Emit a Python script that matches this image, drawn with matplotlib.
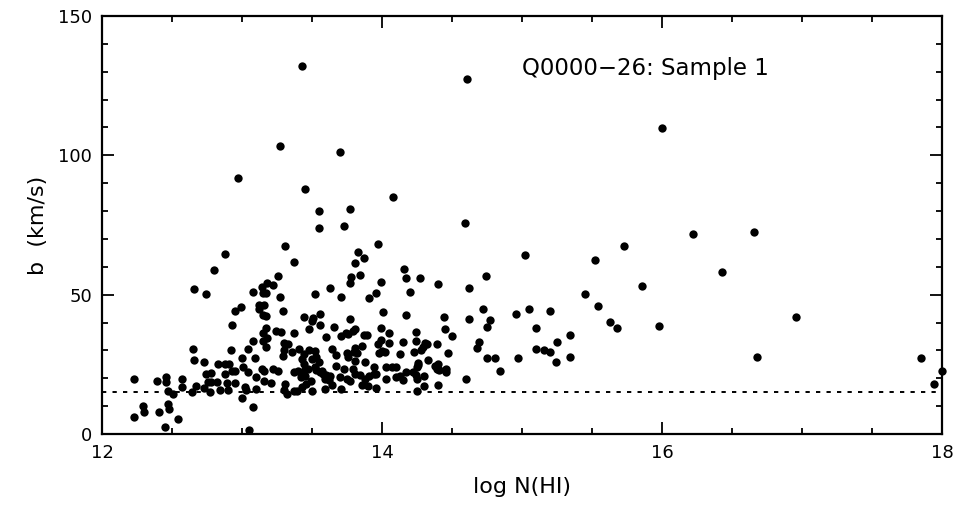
import numpy as np
import matplotlib
matplotlib.use('Agg')
import matplotlib.pyplot as plt
from matplotlib.ticker import MultipleLocator

########## data: log N(HI) and b (km/s)

##### 12.0 - 12.6
logN_1 = [12.23, 12.23, 12.29, 12.30, 12.39, 12.41, 12.45, 12.46, 12.46, 12.47,
          12.47, 12.48, 12.51, 12.54, 12.57, 12.57]
b_1    = [19.6, 6.2, 10.0, 7.9, 18.9, 7.9, 2.6, 20.3, 18.7, 15.5,
          10.8, 9.1, 14.4, 5.5, 19.8, 17.0]

##### 12.6 - 13.33
logN_2 = [12.65, 12.66, 12.66, 12.64, 12.67, 12.73, 12.74, 12.74, 12.78, 12.76,
          12.73, 12.77, 12.78, 12.80, 12.82, 12.83, 12.84, 12.88, 12.88, 12.88,
          12.89, 12.90, 12.91, 12.92, 12.93, 12.93, 12.95, 12.95, 12.95, 12.97,
          12.99, 13.00, 13.00, 13.01, 13.02, 13.03, 13.04, 13.04, 13.05, 13.08,
          13.08, 13.08, 13.09, 13.10, 13.10, 13.12, 13.12, 13.14, 13.14, 13.15,
          13.15, 13.15, 13.15, 13.16, 13.16, 13.16, 13.17, 13.17, 13.17, 13.17,
          13.18, 13.18, 13.21, 13.22, 13.22, 13.24, 13.26, 13.26, 13.27, 13.27,
          13.28, 13.29, 13.29, 13.30, 13.30, 13.30, 13.31, 13.31, 13.32, 13.33]
b_2    = [30.6, 26.4, 51.9, 15.1, 17.1, 25.9, 50.1, 21.5, 22.0, 18.6,
          16.4, 15.2, 18.8, 58.8, 18.8, 25.1, 15.8, 64.6, 25.1, 21.5,
          18.2, 15.8, 25.1, 30.1, 39.1, 22.6, 22.7, 44.3, 18.2, 92.0,
          45.7, 27.2, 13.0, 24.1, 17.0, 15.9, 30.6, 22.2, 1.4, 9.8,
          51.1, 33.5, 27.2, 20.3, 16.3, 46.2, 44.9, 52.6, 23.2, 50.7,
          42.7, 36.1, 33.4, 46.2, 22.6, 18.9, 50.7, 42.3, 38.1, 31.3,
          54.3, 34.3, 18.4, 53.3, 23.2, 37.1, 56.8, 22.7, 49.0, 103.5,
          36.7, 44.2, 28.0, 32.8, 30.1, 15.8, 67.6, 17.9, 14.3, 32.3]

##### 13.33 - 14.6
logN_3 = [13.43, 13.70, 13.45, 13.55, 13.55, 13.77, 13.73, 14.08, 14.59, 13.37,
          13.83, 13.87, 13.81, 13.97, 13.78, 13.77, 13.84, 14.16, 14.17, 14.27,
          13.99, 14.40, 14.62, 13.63, 13.52, 13.71, 13.91, 13.96, 14.20, 14.01,
          14.17, 13.44, 13.56, 13.50, 13.51, 13.77, 14.44, 14.62, 13.48, 13.56,
          13.66, 13.76, 13.79, 13.89, 13.99, 14.05, 14.24, 14.45, 14.50, 13.37,
          13.60, 13.71, 13.74, 13.81, 13.87, 13.99, 14.05, 14.24, 14.31, 14.32,
          14.39, 14.15, 14.47, 13.41, 13.48, 13.52, 13.44, 13.36, 13.50, 13.53,
          13.55, 13.43, 13.44, 13.64, 13.67, 13.75, 13.76, 13.80, 13.81, 13.82,
          13.81, 13.86, 13.98, 14.00, 14.13, 14.23, 14.28, 14.29, 14.33, 14.38,
          14.40, 14.46, 14.46, 14.60, 13.37, 13.39, 13.43, 13.46, 13.50, 13.37,
          13.40, 13.44, 13.47, 13.45, 13.42, 13.49, 13.52, 13.53, 13.56, 13.57,
          13.58, 13.59, 13.60, 13.62, 13.63, 13.59, 13.64, 13.67, 13.70, 13.71,
          13.73, 13.75, 13.77, 13.79, 13.81, 13.84, 13.86, 13.90, 13.88, 13.91,
          13.88, 13.94, 13.94, 13.96, 13.96, 14.03, 14.03, 14.07, 14.10, 14.10,
          14.13, 14.15, 14.17, 14.22, 14.24, 14.25, 14.25, 14.26, 14.25, 14.30,
          14.30, 14.40, 14.39, 14.45, 13.97, 14.02, 14.26, 14.41]
b_3    = [132.1, 101.3, 87.8, 80.2, 74.0, 80.6, 74.6, 85.2, 75.6, 61.8,
          65.4, 63.0, 61.2, 68.3, 56.5, 54.3, 56.9, 59.3, 55.8, 56.1,
          54.4, 54.0, 52.5, 52.3, 50.3, 49.0, 48.9, 50.6, 50.8, 43.6,
          42.8, 42.1, 42.9, 40.5, 41.6, 41.1, 41.9, 41.4, 37.7, 39.0,
          38.5, 35.9, 37.1, 35.6, 37.9, 36.1, 36.6, 37.7, 35.1, 36.1,
          34.9, 35.2, 36.3, 37.5, 35.4, 33.7, 32.8, 33.4, 32.8, 32.2,
          32.2, 32.9, 29.2, 30.6, 30.1, 29.9, 28.7, 29.5, 27.0, 27.7,
          25.8, 27.0, 25.1, 30.5, 28.5, 28.9, 27.7, 29.5, 30.7, 29.2,
          26.3, 31.6, 29.2, 29.8, 28.7, 29.3, 30.0, 31.3, 26.5, 24.4,
          25.0, 23.5, 22.1, 19.6, 15.4, 15.4, 17.0, 17.9, 15.5, 22.2,
          22.5, 22.7, 23.3, 20.8, 20.6, 18.9, 24.1, 23.0, 22.2, 22.7,
          21.7, 19.6, 21.2, 19.4, 20.8, 16.3, 17.7, 24.4, 20.6, 16.0,
          23.2, 19.8, 19.1, 23.4, 21.7, 21.2, 17.6, 17.2, 19.7, 20.8,
          25.8, 24.1, 21.4, 16.4, 21.7, 23.9, 19.7, 23.9, 23.9, 20.3,
          20.8, 19.4, 22.4, 22.4, 21.2, 23.9, 19.6, 24.7, 15.6, 20.8,
          17.2, 17.5, 23.5, 23.0, 32.3, 29.5, 25.5, 23.0]

##### 14.6 - 18.0
logN_4 = [14.61, 14.69, 14.68, 14.72, 14.74, 14.75, 14.75, 14.77, 14.81, 14.84,
          14.96, 14.97, 15.02, 15.05, 15.10, 15.10, 15.16, 15.20, 15.20, 15.24,
          15.25, 15.34, 15.34, 15.45, 15.52, 15.54, 15.63, 15.68, 15.73, 15.86,
          15.98, 16.00, 16.22, 16.43, 16.66, 16.68, 16.96, 17.85, 17.94, 18.00]
b_4    = [127.5, 33.1, 30.7, 44.7, 56.6, 38.5, 27.1, 40.9, 27.4, 22.6,
          43.0, 27.1, 64.2, 44.8, 37.9, 30.5, 30.1, 29.5, 44.1, 25.7,
          32.9, 27.5, 35.5, 50.4, 62.6, 45.9, 40.3, 37.9, 67.4, 53.0,
          38.7, 109.8, 71.6, 58.2, 72.5, 27.7, 42.1, 27.4, 17.8, 22.7]

b_cut = 15.0   # dotted line

logN = np.array(logN_1 + logN_2 + logN_3 + logN_4)
b = np.array(b_1 + b_2 + b_3 + b_4)


########## plot

plt.rcParams['font.family'] = 'DejaVu Sans'

fig = plt.figure(figsize=(9.59, 5.08), dpi=100)
ax = fig.add_axes([0.1064, 0.1457, 0.8759, 0.8228])

ax.plot(logN, b, 'o', color='black', markersize=6.0, markeredgewidth=0, clip_on=False)
ax.axhline(b_cut, color='black', lw=1.4, linestyle=(0, (2.2, 3.2)))

ax.set_xlim(12, 18)
ax.set_ylim(0, 150)

ax.xaxis.set_major_locator(MultipleLocator(2))
ax.xaxis.set_minor_locator(MultipleLocator(0.5))
ax.yaxis.set_major_locator(MultipleLocator(50))
ax.yaxis.set_minor_locator(MultipleLocator(10))

ax.tick_params(which='both', direction='in', top=True, right=True, width=1.3, labelsize=13, pad=7)
ax.tick_params(which='major', length=8.5)
ax.tick_params(which='minor', length=4.3)
for s in ax.spines.values():
    s.set_linewidth(1.6)

ax.set_xlabel('log N(HI)', fontsize=16, labelpad=11)
ax.set_ylabel('b  (km/s)', fontsize=16, labelpad=7)

ax.text(15.0, 131, 'Q0000\u221226: Sample 1', fontsize=16.5, ha='left', va='center')

plt.savefig('out.png', dpi=100)
